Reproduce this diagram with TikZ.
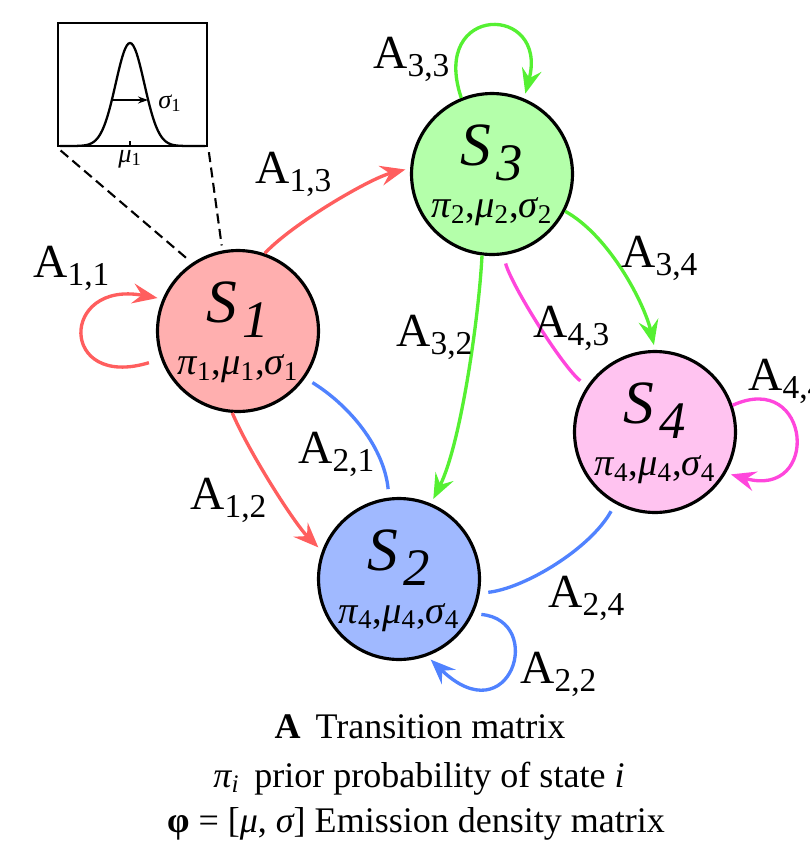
\documentclass[tikz,border=0pt]{standalone}
\usepackage{fontspec}
\setmainfont{Liberation Serif}
\usetikzlibrary{arrows.meta}
\definecolor{redline}{HTML}{FF5E5E}
\definecolor{redfill}{HTML}{FFAFAF}
\definecolor{greenline}{HTML}{55F032}
\definecolor{greenfill}{HTML}{B4FFAA}
\definecolor{magline}{HTML}{FF46DC}
\definecolor{magfill}{HTML}{FFC3F0}
\definecolor{blueline}{HTML}{5082FF}
\definecolor{bluefill}{HTML}{A0B9FF}

% transition label A_{i,j}
\newcommand{\trans}[1]{A{\fontsize{19}{19}\selectfont\raisebox{-0.17cm}{#1}}}
% state name S_i and its parameters
\newcommand{\sname}[1]{{\fontsize{35}{35}\selectfont\itshape S}\hspace{0.1cm}\raisebox{-0.3cm}{\fontsize{30}{30}\selectfont\itshape #1}}
\newcommand{\spar}[1]{{\itshape π}\textsubscript{#1},{\itshape μ}\textsubscript{#1},{\itshape σ}\textsubscript{#1}}

\begin{document}
\begin{tikzpicture}[x=0.02cm,y=-0.02cm,
      hmmstate/.style={circle,draw=black,line width=1.8pt,minimum size=3.22cm,inner sep=0pt},
      namelbl/.style={anchor=base,inner sep=0pt,yshift=0.18cm},
      parlbl/.style={anchor=base,inner sep=0pt,yshift=-0.88cm,font=\fontsize{22}{22}\selectfont},
      lbl/.style={anchor=base west,inner sep=0pt,font=\fontsize{27}{27}\selectfont},
      legend/.style={anchor=base,inner sep=0pt,font=\fontsize{20.5}{24}\selectfont},
      conn/.style={line width=1.9pt},
      conntip/.style={conn,-{Stealth[length=0.5cm,width=0.4cm,inset=0.18cm]},shorten >=0.1cm},
      gap/.style={shorten <=0.17cm,shorten >=0.17cm},
      zoomline/.style={dash pattern=on 0.2cm off 0.11cm,line width=1.2pt,shorten <=0.1cm,shorten >=0.1cm}]

    \useasboundingbox (0,0) rectangle (809,849);

    % states
    \node[hmmstate,fill=redfill] (s1) at (238,331) {};
    \node[hmmstate,fill=greenfill] (s3) at (492,174) {};
    \node[hmmstate,fill=magfill] (s4) at (655,432) {};
    \node[hmmstate,fill=bluefill] (s2) at (399,579) {};

    \node[namelbl] (s1name) at (s1) {\sname{1}};
    \node[namelbl] (s2name) at (s2) {\sname{2}};
    \node[namelbl] (s3name) at (s3) {\sname{3}};
    \node[namelbl] (s4name) at (s4) {\sname{4}};
    \node[parlbl] (s1par) at (s1) {\spar{1}};
    \node[parlbl] (s2par) at (s2) {\spar{4}};
    \node[parlbl] (s3par) at (s3) {\spar{2}};
    \node[parlbl] (s4par) at (s4) {\spar{4}};

    % emission density inset
    \node[draw,line width=1.4pt,minimum width=2.98cm,minimum height=2.46cm,inner sep=0pt] (inset) at (132.5,84.5) {};
    \draw[line width=1.3pt] plot[domain=60:205,samples=90,smooth] (\x,{146-103*exp(-((\x-130)^2)/409)});
    \draw[line width=1pt] (130,141) -- (130,146);
    \draw[line width=1pt,-{Stealth[length=0.2cm,width=0.14cm]}] (113,100) -- (148,100);
    \node[anchor=base west,inner sep=0pt,font=\fontsize{15}{15}\selectfont] (sig) at (158,108) {{\itshape σ}\textsubscript{1}};
    \node[anchor=base,inner sep=0pt,font=\fontsize{15}{15}\selectfont] (mu) at (130,162) {{\itshape μ}\textsubscript{1}};
    \draw[zoomline] (inset.south west) -- (s1.124);
    \draw[zoomline] (inset.south east) -- (s1.101);

    % transitions
    \draw[conntip,redline] (s1.71) .. controls +(28,-30) and +(-40,10) .. (s3.176);
    \draw[conntip,redline] (s1.266) .. controls +(16,38) and +(-28,-28) .. (s2.160);
    \draw[conn,blueline,gap] (s1.-35) .. controls +(45,28) and +(-5,-50) .. (s2.97);
    \draw[conntip,greenline] (s3.263) .. controls +(-3,60) and +(30,-60) .. (s2.67);
    \draw[conntip,greenline] (s3.-27) .. controls +(45,25) and +(-10,-45) .. (s4.90);
    \draw[conn,magline,gap] (s3.-82) .. controls +(8,30) and +(-25,-20) .. (s4.146);
    \draw[conn,blueline,gap] (s4.-119) .. controls +(-25,45) and +(45,-5) .. (s2.-10);

    % self loops
    \draw[conntip,redline,shorten <=0.25cm] (s1.200) .. controls +(-102,31) and +(-103,-19) .. (s1.157);
    \draw[conntip,greenline] (s3.112) .. controls +(-32,-95) and +(25,-95) .. (s3.67);
    \draw[conntip,magline] (s4.19) .. controls +(79,-36) and +(95,27) .. (s4.-30);
    \draw[conntip,blueline,shorten <=0.16cm] (s2.-25) .. controls +(73,7) and +(83,80) .. (s2.-70);

    % transition labels
    \node[lbl] (l11) at (33,277) {\trans{1,1}};
    \node[lbl] (l13) at (255,183) {\trans{1,3}};
    \node[lbl] (l12) at (190,509) {\trans{1,2}};
    \node[lbl] (l21) at (298,463) {\trans{2,1}};
    \node[lbl] (l32) at (396,346) {\trans{3,2}};
    \node[lbl] (l33) at (373,68) {\trans{3,3}};
    \node[lbl] (l34) at (621,267) {\trans{3,4}};
    \node[lbl] (l43) at (533,337) {\trans{4,3}};
    \node[lbl] (l44) at (748,390) {\trans{4,4}};
    \node[lbl] (l24) at (548,607) {\trans{2,4}};
    \node[lbl] (l22) at (520,683) {\trans{2,2}};

    % legend
    \node[legend] (legA) at (420,738) {\textbf{A}\hspace{0.3cm}Transition matrix};
    \node[legend] (legP) at (419,787) {{\itshape π\textsubscript{i}}\hspace{0.3cm}prior probability of state {\itshape i}};
    \node[legend] (legE) at (416,832) {\textbf{φ} = [{\itshape μ}, {\itshape σ}] Emission density matrix};
  \end{tikzpicture}
\end{document}
